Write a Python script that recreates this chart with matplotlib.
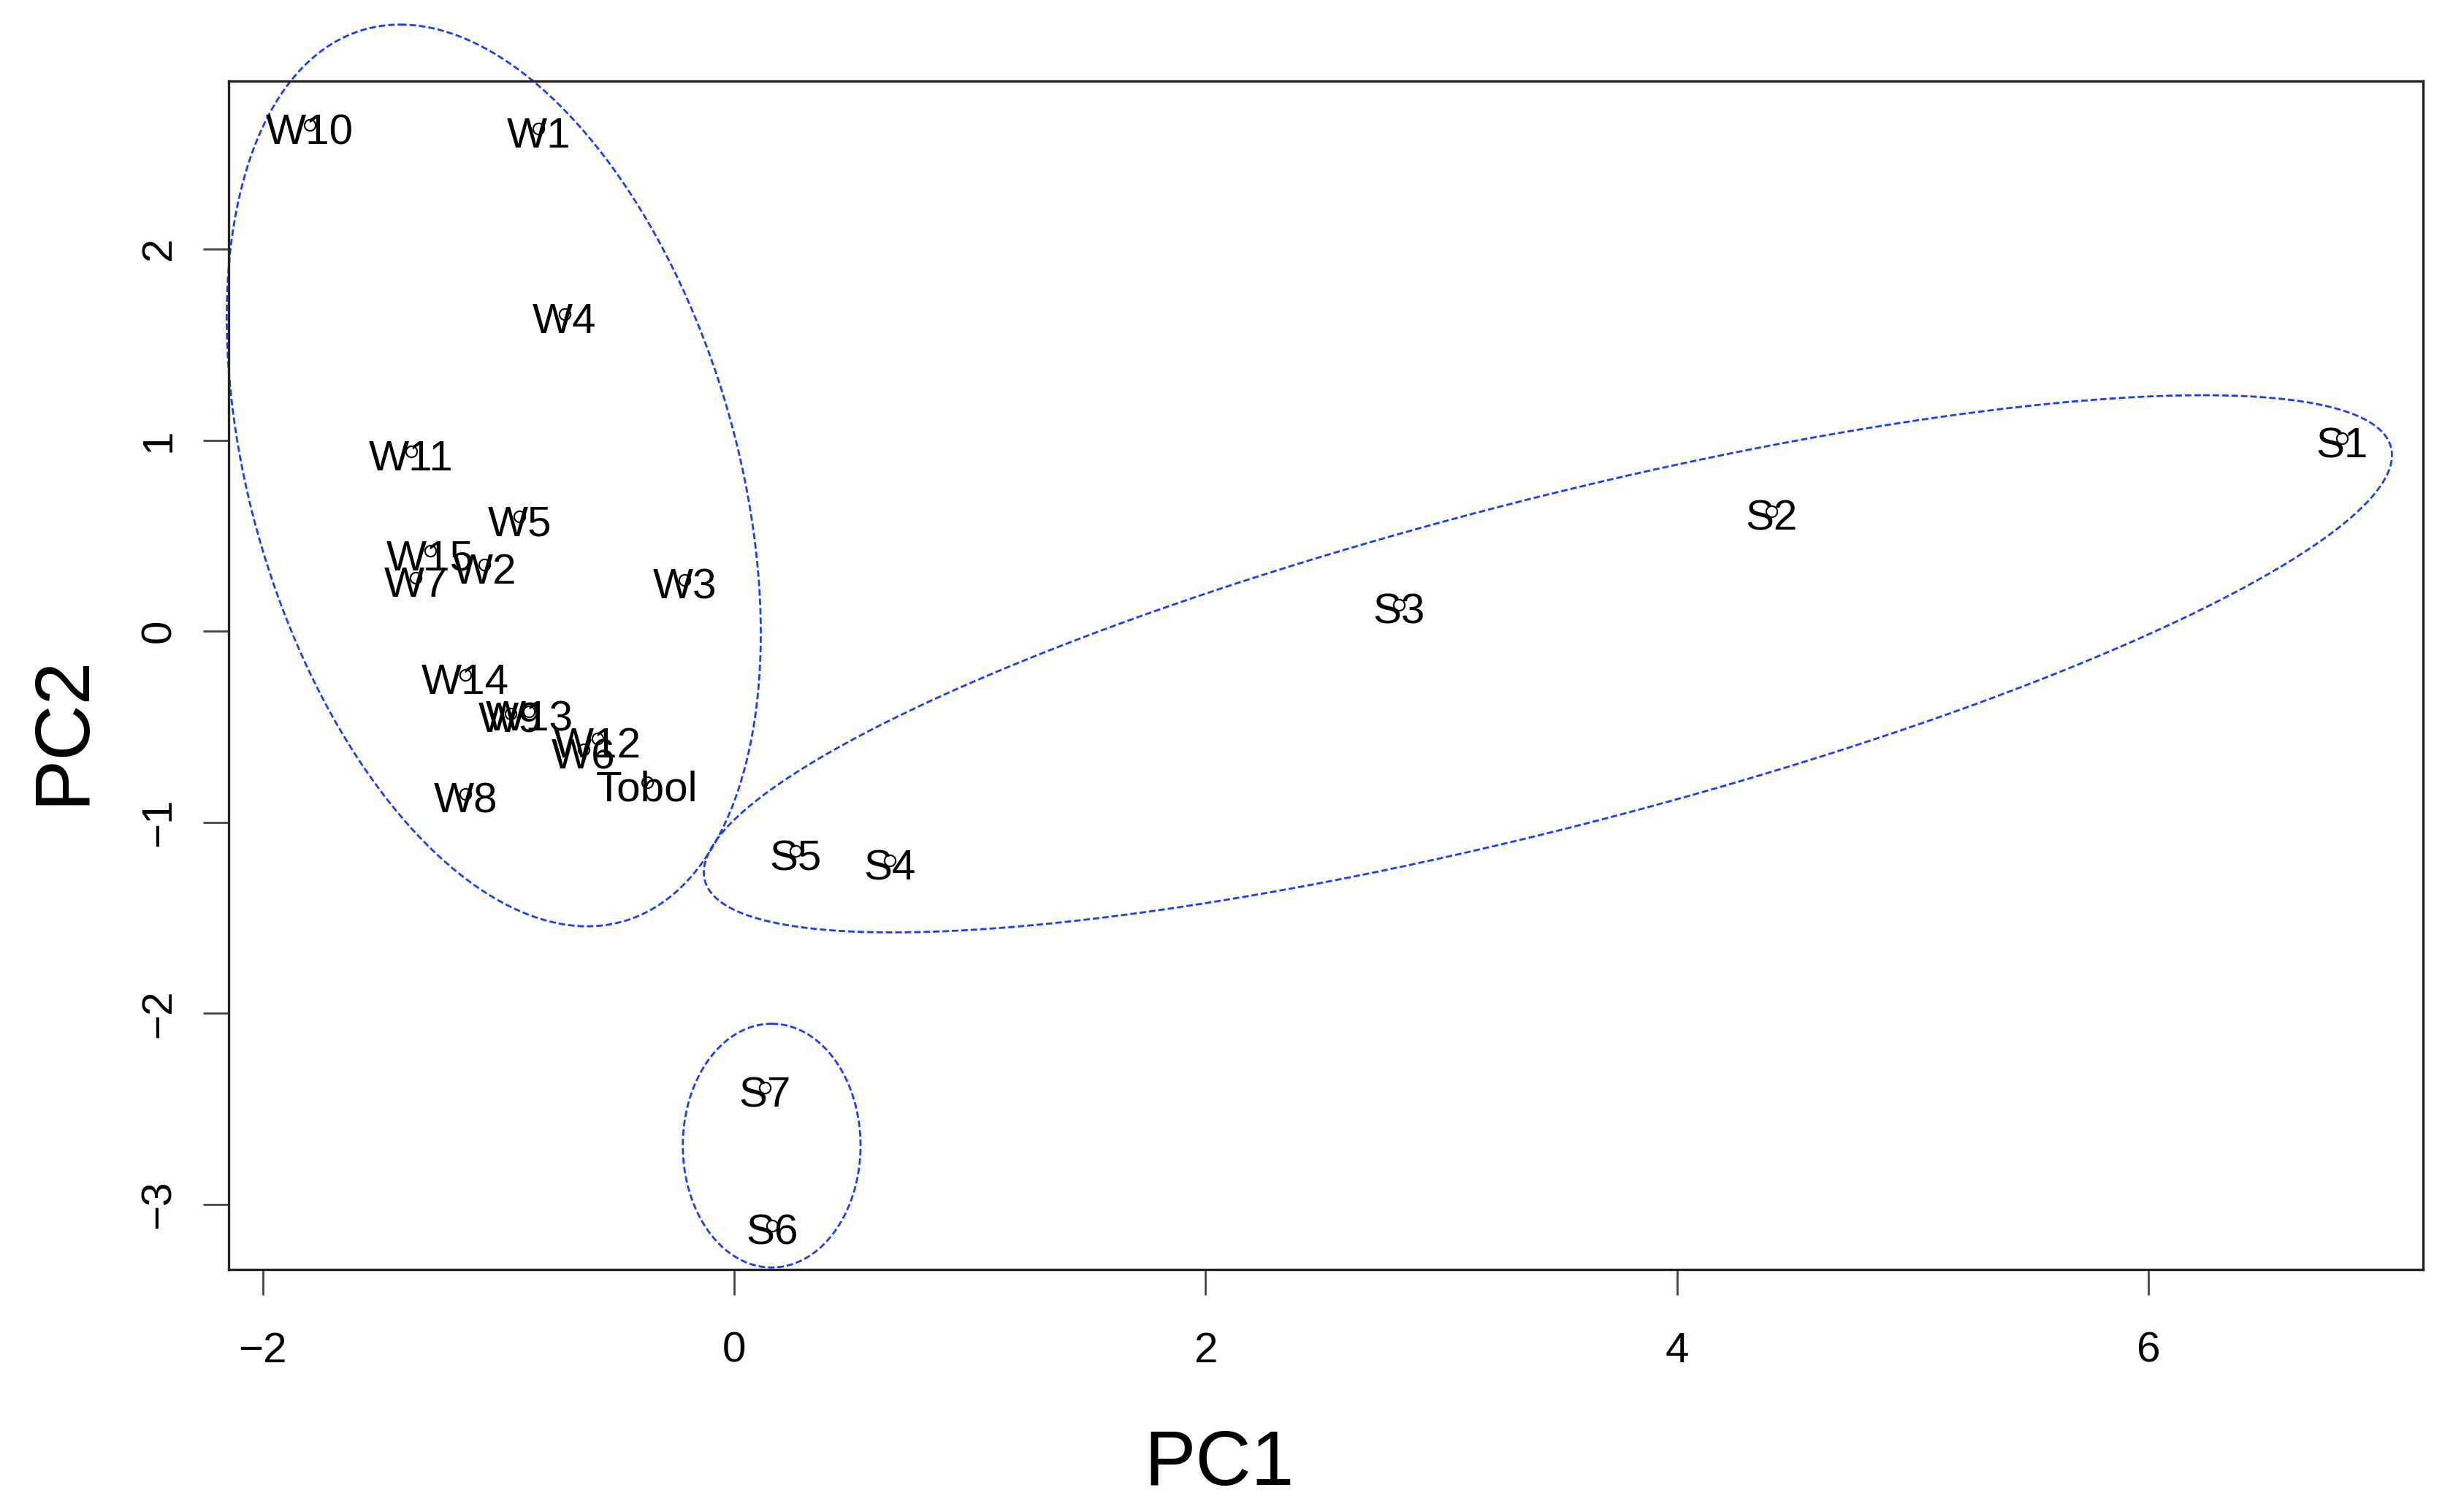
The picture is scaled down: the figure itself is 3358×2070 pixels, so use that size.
# pca_biplot.py
# PCA scores (PC1 vs PC2) with labelled samples and dashed group ellipses

import numpy as np
import matplotlib
matplotlib.use("Agg")
import matplotlib.pyplot as plt

plt.rcParams['font.family'] = ['Liberation Sans', 'DejaVu Sans']

# ==== 1. Data ====
labels = ["W1", "W2", "W3", "W4", "W5", "W6", "W7", "W8", "W9", "W10",
          "W11", "W12", "W13", "W14", "W15", "Tobol",
          "S1", "S2", "S3", "S4", "S5", "S6", "S7"]
pc1 = [-0.83, -1.06, -0.21, -0.72, -0.91, -0.64, -1.35, -1.14, -0.95, -1.80,
       -1.37, -0.58, -0.87, -1.14, -1.29, -0.37,
       6.82, 4.40, 2.82, 0.66, 0.26, 0.16, 0.13]
pc2 = [2.63, 0.35, 0.27, 1.66, 0.60, -0.62, 0.28, -0.85, -0.43, 2.65,
       0.94, -0.56, -0.42, -0.23, 0.42, -0.79,
       1.01, 0.63, 0.14, -1.20, -1.15, -3.11, -2.39]

# ellipses: centre + two conjugate half-axis vectors (data units)
ell_centers = [(-1.02, 0.816), (3.452, -0.17), (0.159, -2.692)]
ell_u = [(-0.397, 2.36), (2.78, 1.406), (0.0, 0.638)]
ell_v = [(1.061, 0.0), (2.257, 0.0), (0.377, 0.0)]

x_ticks = [-2, 0, 2, 4, 6]
y_ticks = [-3, -2, -1, 0, 1, 2]

# ==== 2. Figure ====
fig = plt.figure(figsize=(16.79, 10.35), dpi=200)
ax = fig.add_axes([0.0932, 0.1604, 0.8946, 0.786])

ax.plot(pc1, pc2, linestyle="none", marker="o", markersize=5.5,
        markerfacecolor="none", markeredgecolor="black", markeredgewidth=0.75)
# R's text() sits the label a touch below the point
for lab, x, y in zip(labels, pc1, pc2):
    ax.annotate(lab, (x, y), xytext=(0, -1.8), textcoords="offset points",
                ha="center", va="center_baseline", fontsize=21)

# ==== 3. Dashed ellipses (drawn past the frame, like xpd=TRUE) ====
t = np.linspace(0, 2 * np.pi, 400)
for (cx, cy), (ux, uy), (vx, vy) in zip(ell_centers, ell_u, ell_v):
    ex = cx + ux * np.cos(t) + vx * np.sin(t)
    ey = cy + uy * np.cos(t) + vy * np.sin(t)
    ax.plot(ex, ey, color="#1a3cff", linewidth=1.0, dashes=(3.2, 1.45),
            clip_on=False)

# R-style limits: data range + 4%
xr = max(pc1) - min(pc1)
yr = max(pc2) - min(pc2)
ax.set_xlim(min(pc1) - 0.04 * xr, max(pc1) + 0.04 * xr)
ax.set_ylim(min(pc2) - 0.04 * yr, max(pc2) + 0.04 * yr)

# ==== 4. Axes styling ====
ax.set_xticks(x_ticks)
ax.set_yticks(y_ticks)
ax.tick_params(direction="out", length=12.5, width=1.0, color="#444444",
               labelsize=21)
ax.tick_params(axis="x", pad=18)
ax.tick_params(axis="y", pad=12)
plt.setp(ax.get_yticklabels(), rotation=90, va="center", ha="right")
for s in ax.spines.values():
    s.set_linewidth(1.2)
    s.set_color("#222222")

fig.text(0.497, 0.0179, "PC1", ha="center", va="baseline", fontsize=38)
fig.text(0.0342, 0.517, "PC2", ha="center", va="baseline", rotation=90,
         rotation_mode="anchor", fontsize=38)

fig.savefig("out.png", dpi=200)
plt.close(fig)
print("saved out.png")
